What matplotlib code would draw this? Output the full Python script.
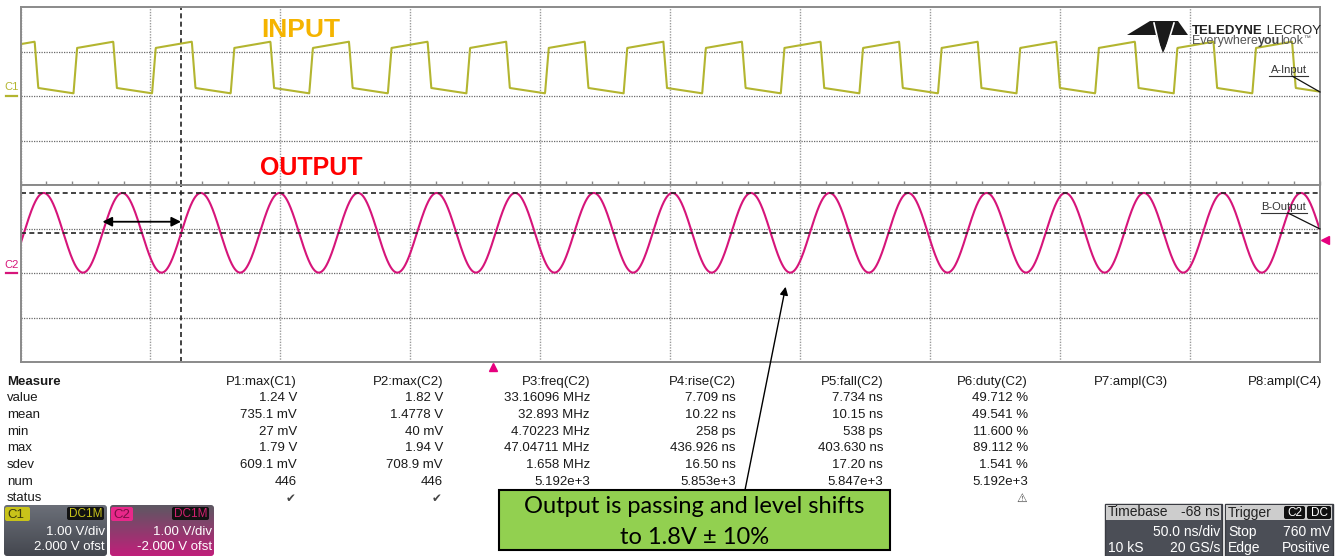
import numpy as np
import matplotlib
matplotlib.use("Agg")
import matplotlib.pyplot as plt
from matplotlib.patches import Rectangle, FancyBboxPatch, Polygon
from matplotlib.transforms import blended_transform_factory
from matplotlib.colors import LinearSegmentedColormap

plt.rcParams['font.family'] = ['Liberation Sans', 'DejaVu Sans']

# scope settings
TIME_PER_DIV = 50.0          # ns/div
H_DELAY = -68.0              # ns
N_HDIV = 10

# C1 (input) square wave, levels in V, times in ns from trigger
IN_PERIOD = 30.25
IN_FALL_T = -24.6
IN_HIGH_T = 15.3
IN_EDGE = 1.4
IN_HIGH = [1.08, 1.22]       # start / end of the high part
IN_LOW = [0.18, 0.06]        # start / end of the low part

# C2 (output) sine
OUT_PERIOD = 30.25
OUT_MAX = 1.82
OUT_MIN = 0.02
TRIG_LEVEL = 0.76

# cursors
CURSOR_T = -120.2
CURSOR_V = [1.82, 0.91]

# measurement table
row_names = ['value', 'mean', 'min', 'max', 'sdev', 'num', 'status']
headers = ['P1:max(C1)', 'P2:max(C2)', 'P3:freq(C2)', 'P4:rise(C2)',
           'P5:fall(C2)', 'P6:duty(C2)', 'P7:ampl(C3)', 'P8:ampl(C4)']
p1 = ['1.24 V', '735.1 mV', '27 mV', '1.79 V', '609.1 mV', '446', '\u2714']
p2 = ['1.82 V', '1.4778 V', '40 mV', '1.94 V', '708.9 mV', '446', '\u2714']
p3 = ['33.16096 MHz', '32.893 MHz', '4.70223 MHz', '47.04711 MHz', '1.658 MHz', '5.192e+3', '']
p4 = ['7.709 ns', '10.22 ns', '258 ps', '436.926 ns', '16.50 ns', '5.853e+3', '']
p5 = ['7.734 ns', '10.15 ns', '538 ps', '403.630 ns', '17.20 ns', '5.847e+3', '']
p6 = ['49.712 %', '49.541 %', '11.600 %', '89.112 %', '1.541 %', '5.192e+3', '\u26a0']
p7 = [''] * 7
p8 = [''] * 7
col_right = [297, 443, 590, 736, 883, 1028, 1168, 1322]

IN_COLOR = '#b3b530'
OUT_COLOR = '#d6157a'

W, H = 1335, 556
fig = plt.figure(figsize=(W / 100, H / 100), dpi=100)

t_mid = -H_DELAY
t_lo = t_mid - TIME_PER_DIV * N_HDIV / 2
t_hi = t_mid + TIME_PER_DIV * N_HDIV / 2
t = np.linspace(t_lo, t_hi, 5000)

# input: piecewise linear square wave built from its edges
bt, bv = [], []
first = IN_FALL_T - IN_PERIOD * 8
for k in range(20):
    tf = first + k * IN_PERIOD
    tr = tf + (IN_PERIOD - IN_HIGH_T)
    bt += [tf - IN_EDGE / 2, tf + IN_EDGE / 2, tr - IN_EDGE / 2, tr + IN_EDGE / 2]
    bv += [IN_HIGH[1], IN_LOW[0], IN_LOW[1], IN_HIGH[0]]
v_in = np.interp(t, bt, bv)

# output: sine through the trigger level at t = 0 (rising)
mid = (OUT_MAX + OUT_MIN) / 2
amp = (OUT_MAX - OUT_MIN) / 2
phi = np.arcsin((TRIG_LEVEL - mid) / amp)
v_out = mid + amp * np.sin(2 * np.pi * t / OUT_PERIOD + phi)

left = 20.5 / W
width = 1299 / W
ax_in = fig.add_axes([left, 1 - 185 / H, width, 178 / H])
ax_out = fig.add_axes([left, 1 - 362 / H, width, 177 / H])

grid_x = np.arange(t_lo, t_hi + 1, TIME_PER_DIV)
minor_x = np.arange(t_lo, t_hi + 1, TIME_PER_DIV / 5)
for ax in (ax_in, ax_out):
    ax.set_xlim(t_lo, t_hi)
    ax.set_ylim(-2, 2)
    ax.set_xticks(grid_x)
    ax.set_xticks(minor_x, minor=True)
    ax.set_yticks([-1, 0, 1])
    ax.xaxis.grid(True, color='#9a9a9a', linestyle=(0, (1, 1)), linewidth=1.0)
    ax.yaxis.grid(True, color='#6a6a6a', linestyle=(0, (1, 1)), linewidth=0.9)
    ax.tick_params(which='both', labelbottom=False, labelleft=False,
                   left=False, bottom=False, top=False, right=False)
    for s in ax.spines.values():
        s.set_color('#8a8a8a')
        s.set_linewidth(1.4)
    ax.axvline(CURSOR_T, color='#222222', linestyle=(0, (3, 2)), linewidth=1.2)

# tick marks along the centre line
ax_in.tick_params(which='both', bottom=True, direction='in', length=3,
                  color='#8a8a8a', width=1)

ax_in.plot(t, v_in, color=IN_COLOR, linewidth=1.5)
ax_out.plot(t, v_out, color=OUT_COLOR, linewidth=1.5)

for cv in CURSOR_V:
    ax_out.axhline(cv, color='#222222', linestyle=(0, (3, 2)), linewidth=1.2)

# period arrow
ax_out.annotate('', xy=(CURSOR_T, 1.17), xytext=(CURSOR_T - OUT_PERIOD, 1.17),
                arrowprops=dict(arrowstyle='<|-|>', color='black', lw=1.3,
                                mutation_scale=14, shrinkA=0, shrinkB=0))

# channel ground markers
for ax, name, col in ((ax_in, 'C1', IN_COLOR), (ax_out, 'C2', OUT_COLOR)):
    tr_ = blended_transform_factory(ax.transAxes, ax.transData)
    ax.plot([-0.0112, -0.0027], [0, 0], color=col, lw=1.6, transform=tr_, clip_on=False)
    ax.text(-0.0069, 0.08, name, color=col, fontsize=8, ha='center', va='bottom',
            transform=tr_)

# trigger markers
tr_out = blended_transform_factory(ax_out.transAxes, ax_out.transData)
ax_out.plot([1.0045], [TRIG_LEVEL], marker='<', color='#e6007e', markersize=6,
            transform=tr_out, clip_on=False)
tr_bot = blended_transform_factory(ax_out.transData, ax_out.transAxes)
ax_out.plot([0], [-0.03], marker='^', color='#e6007e', markersize=6,
            transform=tr_bot, clip_on=False)

# callout arrow from the note box to the output trough
ax_out.annotate('', xy=(112.5, -0.30), xycoords='data',
                xytext=(745 / W, 1 - 490 / H), textcoords='figure fraction',
                arrowprops=dict(arrowstyle='-|>', color='black', lw=1.0,
                                mutation_scale=12, shrinkA=0, shrinkB=0),
                annotation_clip=False)

# page layer in pixel units for all the screen furniture
page = fig.add_axes([0, 0, 1, 1], zorder=5)
page.set_autoscale_on(False)
page.set_xlim(0, W)
page.set_ylim(H, 0)
page.axis('off')

page.text(301, 30, 'INPUT', color='#f5b400', fontsize=19, fontweight='bold',
          ha='center', va='center')
page.text(311, 168, 'OUTPUT', color='#ff0000', fontsize=18, fontweight='bold',
          ha='center', va='center')

# logo
page.add_patch(Polygon([(1127, 35), (1150, 21), (1178, 21), (1188, 35), (1171, 35),
                        (1163, 53), (1156, 35)], closed=True, color='#1a1a1a', lw=0))
page.plot([1154, 1160.5], [23, 51], color='white', lw=1.2)
page.plot([1174, 1165.5], [23, 51], color='white', lw=1.2)
t1 = page.text(1192, 34, 'TELEDYNE', fontsize=9.5, fontweight='bold', color='#222222',
               va='baseline')
page.annotate(' LECROY', xy=(1, 0), xycoords=t1, fontsize=9.5, color='#222222',
              va='bottom')
e1 = page.text(1192, 44, 'Everywhere', fontsize=9, color='#555555', va='baseline')
e2 = page.annotate('you', xy=(1, 0), xycoords=e1, fontsize=9, fontweight='bold',
                   color='#444444', va='bottom')
e3 = page.annotate('look', xy=(1, 0), xycoords=e2, fontsize=9, color='#555555',
                   va='bottom')
page.annotate('\u2122', xy=(1, 0.45), xycoords=e3, fontsize=5, color='#555555',
              va='bottom')

# trace labels
page.text(1289, 70, 'A-Input', fontsize=8, color='#333333', ha='center', va='center')
page.plot([1269, 1308], [75.5, 75.5], color='#333333', lw=0.8)
page.plot([1292, 1320], [76, 92], color='#111111', lw=0.9)
page.text(1284, 207, 'B-Output', fontsize=8, color='#333333', ha='center', va='center')
page.plot([1261, 1307], [212.7, 212.7], color='#333333', lw=0.8)
page.plot([1288, 1320], [213, 229], color='#111111', lw=0.9)

# measurement table
row_y = [398.3, 415, 431.7, 448.3, 465, 481.7, 498.3]
page.text(7, 381.7, 'Measure', fontsize=9.5, fontweight='bold', color='#1a1a1a',
          va='center')
for name, y in zip(row_names, row_y):
    page.text(7, y, name, fontsize=9.5, color='#1a1a1a', va='center')
for col, hdr, xr in zip([p1, p2, p3, p4, p5, p6, p7, p8], headers, col_right):
    page.text(xr, 381.7, hdr, fontsize=9.5, color='#1a1a1a', ha='right', va='center')
    for val, y in zip(col, row_y):
        if val in ('\u2714', '\u26a0'):
            page.text(xr - 1, y, val, fontsize=8.5, color='#444444', ha='right',
                      va='center', family='DejaVu Sans')
        elif val:
            page.text(xr, y, val, fontsize=9.5, color='#1a1a1a', ha='right',
                      va='center')

# note box
page.add_patch(Rectangle((499, 490), 391, 60, facecolor='#92d050', edgecolor='black',
                         lw=1.5))
page.text(694.5, 506.5, 'Output is passing and level shifts', fontsize=17,
          family='Lato', color='black', ha='center', va='center')
page.text(694.5, 537.5, 'to 1.8V \u00b1 10%', fontsize=17, family='Lato',
          color='black', ha='center', va='center')


def gradient_box(x0, y0, w, h, top, bottom):
    box = FancyBboxPatch((x0, y0), w, h, boxstyle='round,pad=0,rounding_size=3',
                         facecolor='none', edgecolor='none')
    page.add_patch(box)
    cmap = LinearSegmentedColormap.from_list('g', [top, bottom])
    img = page.imshow(np.linspace(0, 1, 64).reshape(-1, 1), cmap=cmap, aspect='auto',
                      extent=(x0, x0 + w, y0 + h, y0), origin='upper',
                      interpolation='bilinear')
    img.set_clip_path(box)


def badge(x0, y0, w, h, fc, text, tc, fs=8.5, ha='center'):
    page.add_patch(FancyBboxPatch((x0, y0), w, h, boxstyle='round,pad=0,rounding_size=2',
                                  facecolor=fc, edgecolor='none'))
    tx = x0 + w / 2 if ha == 'center' else x0 + 2
    page.text(tx, y0 + h / 2 + 0.5, text, fontsize=fs, color=tc, ha=ha, va='center')


# channel boxes
gradient_box(4, 505, 103, 51, '#6b6f78', '#44474f')
badge(5, 507, 25, 14, '#c8c31a', 'C1', '#3b3a0c', fs=9.5, ha='left')
badge(67, 507, 37, 13, '#111111', 'DC1M', '#c8c31a')
page.text(105, 532, '1.00 V/div', fontsize=9.5, color='white', ha='right', va='center')
page.text(105, 547.5, '2.000 V ofst', fontsize=9.5, color='white', ha='right', va='center')

gradient_box(110, 505, 104, 51, '#5d5862', '#c01f7a')
badge(111, 507, 22, 14, '#e8288a', 'C2', '#7a0f45', fs=9.5, ha='left')
badge(172, 507, 37, 13, '#111111', 'DC1M', '#d1206f')
page.text(212, 532, '1.00 V/div', fontsize=9.5, color='white', ha='right', va='center')
page.text(212, 547.5, '-2.000 V ofst', fontsize=9.5, color='white', ha='right', va='center')

# timebase and trigger boxes
for x0, w in ((1105, 117), (1225, 108)):
    page.add_patch(Rectangle((x0, 504), w, 52, facecolor='#4b4e56', edgecolor='#3a3c42'))
    page.add_patch(Rectangle((x0 + 1, 505), w - 2, 15, facecolor='#cdcdcd', edgecolor='none'))
page.text(1108, 512.5, 'Timebase', fontsize=10, color='#222222', va='center')
page.text(1220, 512.5, '-68 ns', fontsize=10, color='#222222', ha='right', va='center')
page.text(1220, 532, '50.0 ns/div', fontsize=10, color='white', ha='right', va='center')
page.text(1108, 548, '10 kS', fontsize=10, color='white', va='center')
page.text(1220, 548, '20 GS/s', fontsize=10, color='white', ha='right', va='center')

page.text(1228, 512.5, 'Trigger', fontsize=10, color='#222222', va='center')
badge(1284, 506, 21, 13, '#111111', 'C2', 'white', fs=8.5)
badge(1307, 506, 24, 13, '#111111', 'DC', 'white', fs=8.5)
page.text(1228, 532, 'Stop', fontsize=10, color='white', va='center')
page.text(1331, 532, '760 mV', fontsize=10, color='white', ha='right', va='center')
page.text(1228, 548, 'Edge', fontsize=10, color='white', va='center')
page.text(1331, 548, 'Positive', fontsize=10, color='white', ha='right', va='center')

page.set_xlim(0, W)
page.set_ylim(H, 0)

fig.savefig('out.png', dpi=100)
